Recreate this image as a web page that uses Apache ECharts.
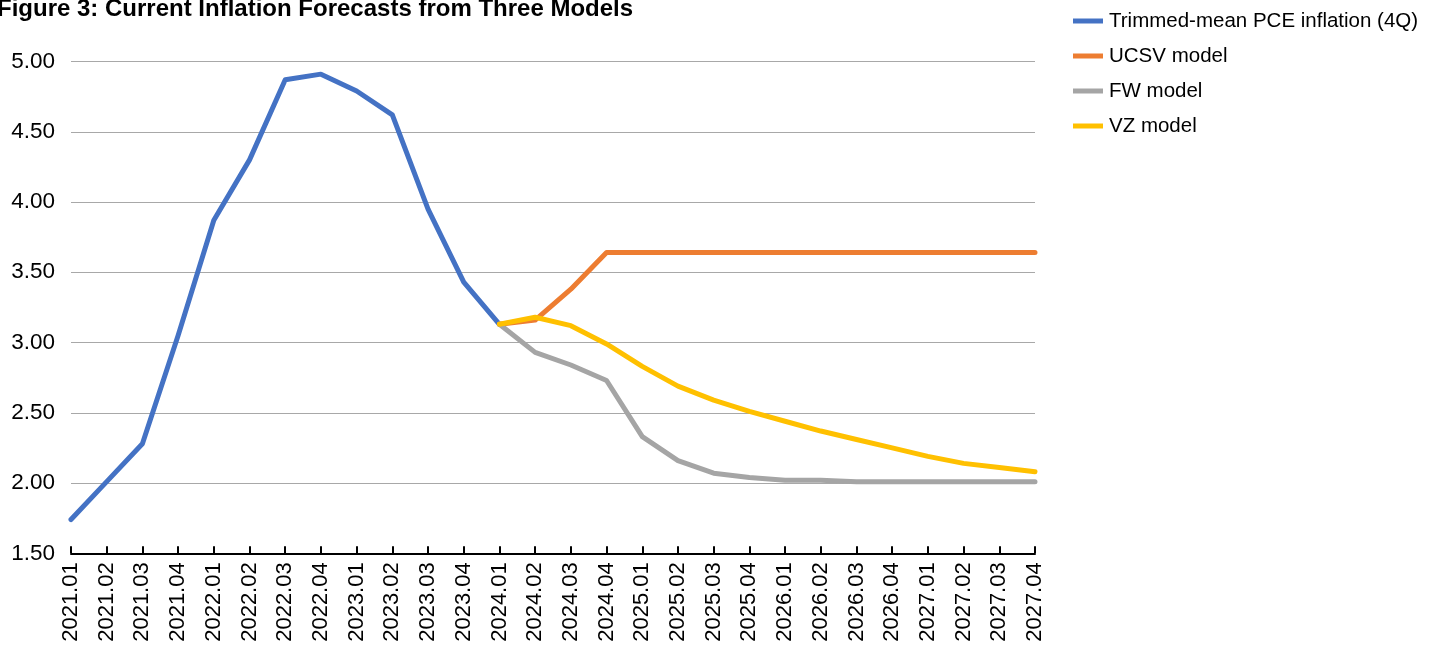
<!DOCTYPE html>
<html>
<head>
<meta charset="utf-8">
<script src="https://cdn.jsdelivr.net/npm/echarts@6/dist/echarts.min.js"></script>
<style>html,body{margin:0;padding:0;background:#fff;}#c{width:1441px;height:645px;}</style>
</head>
<body>
<div id="c"></div>
<script>
const categories = ['2021.01','2021.02','2021.03','2021.04','2022.01','2022.02','2022.03','2022.04','2023.01','2023.02','2023.03','2023.04','2024.01','2024.02','2024.03','2024.04','2025.01','2025.02','2025.03','2025.04','2026.01','2026.02','2026.03','2026.04','2027.01','2027.02','2027.03','2027.04'];
const trimmedMean = [1.74,2.01,2.28,3.05,3.87,4.30,4.87,4.91,4.79,4.62,3.95,3.43,3.13,null,null,null,null,null,null,null,null,null,null,null,null,null,null,null];
const ucsv = [null,null,null,null,null,null,null,null,null,null,null,null,3.13,3.16,3.38,3.64,3.64,3.64,3.64,3.64,3.64,3.64,3.64,3.64,3.64,3.64,3.64,3.64];
const fw = [null,null,null,null,null,null,null,null,null,null,null,null,3.13,2.93,2.84,2.73,2.33,2.16,2.07,2.04,2.02,2.02,2.01,2.01,2.01,2.01,2.01,2.01];
const vz = [null,null,null,null,null,null,null,null,null,null,null,null,3.13,3.18,3.12,2.99,2.83,2.69,2.59,2.51,2.44,2.37,2.31,2.25,2.19,2.14,2.11,2.08];
const yTicks = {min:1.5, max:5, interval:0.5};

const font = '"Liberation Sans", Arial, sans-serif';
const chart = echarts.init(document.getElementById('c'), null, {renderer:'canvas'});
function mk(name, data, color){
  return {name, type:'line', data, symbol:'none', connectNulls:false,
    lineStyle:{color, width:5, cap:'round', join:'round'}, itemStyle:{color}};
}
chart.setOption({
  animation:false,
  backgroundColor:'#fff',
  title:{text:'Figure 3: Current Inflation Forecasts from Three Models', left:-8, top:-8,
    textStyle:{fontFamily:font, fontWeight:'bold', fontSize:24, color:'#000'}},
  legend:{orient:'vertical', left:1073, top:9, padding:0, itemGap:11, itemWidth:30, itemHeight:5, icon:'rect',
    textStyle:{fontFamily:font, fontSize:20.5, lineHeight:24, color:'#000', padding:[0,0,0,1]},
    data:['Trimmed-mean PCE inflation (4Q)','UCSV model','FW model','VZ model']},
  grid:{left:71, right:406, top:61.5, bottom:91.7, containLabel:false},
  xAxis:{type:'category', data:categories, boundaryGap:false,
    axisLine:{lineStyle:{color:'#000', width:2}},
    axisTick:{show:true, inside:true, alignWithLabel:true, length:7, lineStyle:{color:'#000', width:2}, interval:0},
    axisLabel:{rotate:90, interval:0, fontFamily:font, fontSize:22, color:'#000', margin:9},
    splitLine:{show:false}},
  yAxis:{type:'value', min:yTicks.min, max:yTicks.max, interval:yTicks.interval,
    axisLine:{show:false}, axisTick:{show:false},
    axisLabel:{fontFamily:font, fontSize:22.5, color:'#000', margin:16, formatter:v=>v.toFixed(2)},
    splitLine:{lineStyle:{color:'#a8a8a8', width:1}}},
  series:[
    mk('Trimmed-mean PCE inflation (4Q)', trimmedMean, '#4472C4'),
    mk('UCSV model', ucsv, '#ED7D31'),
    mk('FW model', fw, '#A5A5A5'),
    mk('VZ model', vz, '#FFC000')
  ]
});
</script>
</body>
</html>
